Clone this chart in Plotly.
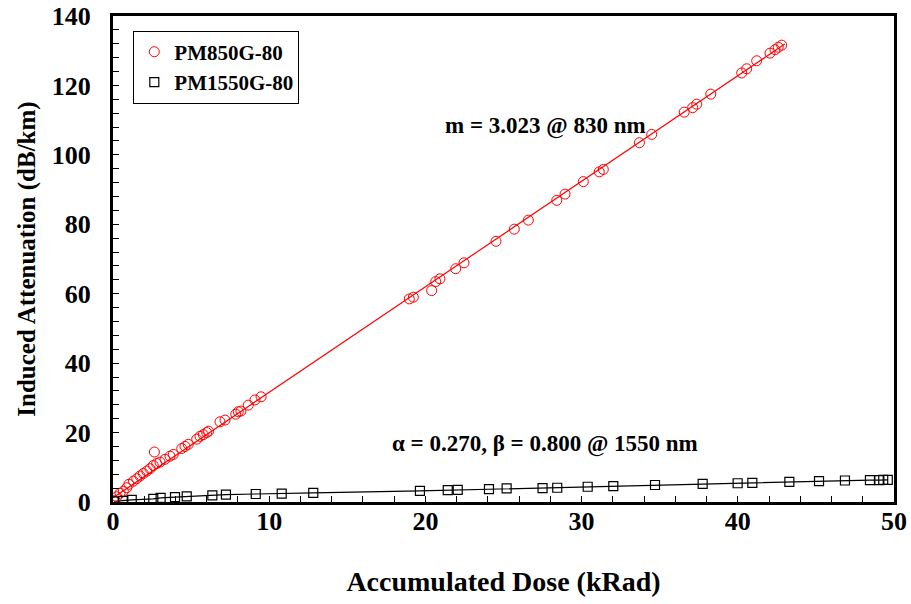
import plotly.graph_objects as go

# PM850G-80 (red circles)
pm850_dose = [0.02, 0.24, 0.45, 0.66, 0.88, 1.02, 1.3, 1.52, 1.73, 1.94, 2.16, 2.37, 2.58, 2.65, 2.8,
              3.01, 3.33, 3.65, 3.86, 4.4, 4.61, 4.82, 5.36, 5.57, 5.78, 6.0, 6.12, 6.85, 7.17, 7.86,
              8.02, 8.19, 8.66, 9.09, 9.48, 18.97, 19.23, 20.4, 20.66, 20.93, 21.94, 22.47, 24.52,
              25.69, 26.59, 28.41, 28.94, 30.11, 31.13, 31.39, 33.7, 34.49, 36.57, 37.11, 37.37,
              38.27, 40.25, 40.57, 41.21, 42.06, 42.38, 42.59, 42.81]
pm850_att = [0.4, 1.5, 2.5, 3.1, 4.1, 5.1, 6.0, 6.7, 7.5, 8.2, 8.9, 9.6, 10.5, 14.4, 11.1,
             11.5, 12.3, 13.2, 13.7, 15.4, 16.0, 16.6, 18.1, 18.9, 19.4, 20.0, 20.4, 23.1, 23.6, 25.3,
             26.0, 26.2, 27.9, 29.4, 30.3, 58.5, 59.0, 60.9, 63.5, 64.3, 67.2, 68.9, 75.1,
             78.6, 81.2, 86.9, 88.7, 92.3, 95.1, 95.8, 103.5, 105.9, 112.3, 113.6, 114.6,
             117.5, 123.6, 124.8, 127.1, 129.3, 130.3, 131.0, 131.6]

# linear fit line for PM850G-80 (endpoints)
fit850_dose = [0.0, 43.0]
fit850_att = [1.2, 131.9]

# PM1550G-80 (black squares)
pm1550_dose = [0.06, 0.66, 1.2, 2.58, 3.05, 3.97, 4.72, 6.36, 7.23, 9.14, 10.8, 12.82, 19.65,
               21.43, 22.07, 24.07, 25.2, 27.5, 28.44, 30.39, 32.03, 34.7, 37.75, 39.99, 40.93,
               43.3, 45.2, 46.86, 48.46, 49.06, 49.31, 49.6]
pm1550_att = [0.2, 0.3, 0.6, 0.9, 1.2, 1.4, 1.6, 1.9, 2.1, 2.3, 2.4, 2.6, 3.2,
              3.4, 3.5, 3.7, 3.9, 4.0, 4.1, 4.4, 4.6, 4.9, 5.2, 5.4, 5.5,
              5.8, 6.0, 6.2, 6.3, 6.3, 6.4, 6.4]

x_ticks = [0, 10, 20, 30, 40, 50]
y_ticks = [0, 20, 40, 60, 80, 100, 120, 140]

FONT = "Liberation Serif"

fig = go.Figure()
fig.add_trace(go.Scatter(x=fit850_dose, y=fit850_att, mode="lines",
                         line=dict(color="#ff0000", width=1.2), showlegend=False, hoverinfo="skip"))
fig.add_trace(go.Scatter(x=pm1550_dose, y=pm1550_att, mode="lines",
                         line=dict(color="black", width=1.2), showlegend=False, hoverinfo="skip"))
fig.add_trace(go.Scatter(x=pm850_dose, y=pm850_att, mode="markers", name="PM850G-80",
                         marker=dict(symbol="circle-open", size=10, color="#ff0000",
                                     line=dict(width=1, color="#ff0000"))))
fig.add_trace(go.Scatter(x=pm1550_dose, y=pm1550_att, mode="markers", name="PM1550G-80",
                         marker=dict(symbol="square-open", size=9, color="black",
                                     line=dict(width=1.2, color="black"))))

axis_common = dict(showgrid=False, zeroline=False, showline=True, linecolor="black", linewidth=3,
                   mirror=True, ticks="inside", ticklen=6, tickwidth=1, tickcolor="black",
                   automargin=False,
                   tickfont=dict(family=FONT, size=26, color="black", weight="bold"))

fig.update_xaxes(range=[0, 50], tickvals=x_ticks, ticktext=[str(v) for v in x_ticks],
                 minor=dict(dtick=2, ticks="inside", ticklen=6, tickcolor="black", tickwidth=1),
                 ticklabelstandoff=-6,
                 title=dict(text="Accumulated Dose (kRad)", standoff=37,
                            font=dict(family=FONT, size=28, color="black", weight="bold")),
                 **axis_common)
fig.update_yaxes(range=[0, 140], tickvals=y_ticks, ticktext=[str(v) for v in y_ticks],
                 minor=dict(dtick=4, ticks="inside", ticklen=6, tickcolor="black", tickwidth=1),
                 ticklabelstandoff=14,
                 title=dict(text="Induced Attenuation (dB/km)", standoff=10,
                            font=dict(family=FONT, size=25, color="black", weight="bold")),
                 **axis_common)

fig.update_layout(
    width=911, height=604,
    margin=dict(l=113, r=17, t=16, b=102),
    plot_bgcolor="white", paper_bgcolor="white",
    legend=dict(x=0.026, y=0.97, xanchor="left", yanchor="top",
                bordercolor="black", borderwidth=1, bgcolor="white",
                font=dict(family=FONT, size=21, color="black", weight="bold"),
                itemwidth=30, tracegroupgap=0),
    annotations=[
        dict(x=27.66, y=108.2, xref="x", yref="y", text="m = 3.023 @ 830 nm", showarrow=False,
             font=dict(family=FONT, size=23, color="black", weight="bold")),
        dict(x=27.66, y=16.6, xref="x", yref="y", text="α = 0.270, β = 0.800 @ 1550 nm",
             showarrow=False, font=dict(family=FONT, size=23, color="black", weight="bold")),
    ],
)

fig.write_html("out.html")
